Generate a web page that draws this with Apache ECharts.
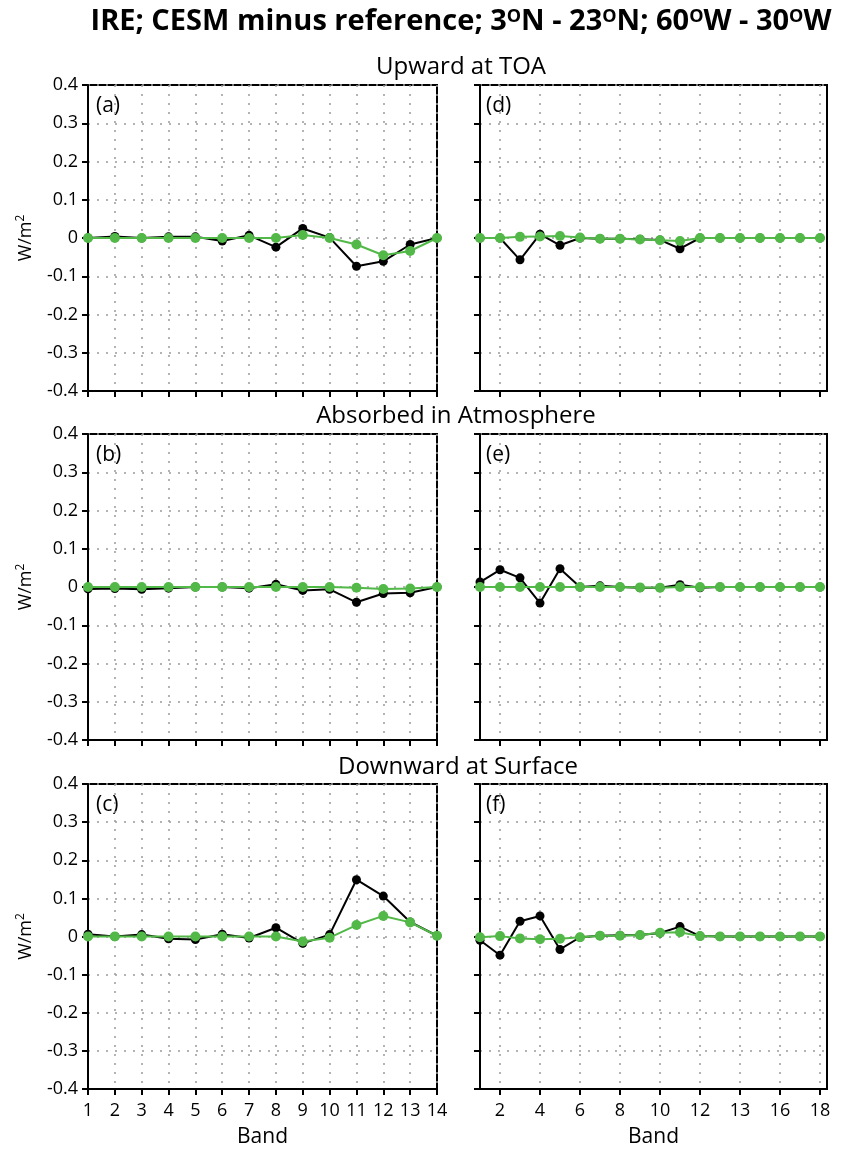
<!DOCTYPE html>
<html>
<head>
<meta charset="utf-8">
<script src="https://cdn.jsdelivr.net/npm/echarts@6/dist/echarts.min.js"></script>
<style>
html, body { margin: 0; padding: 0; background: #fff; }
#main { width: 852px; height: 1149px; }
</style>
</head>
<body>
<div id="main"></div>
<script>
// bands
const leftBands = [1, 2, 3, 4, 5, 6, 7, 8, 9, 10, 11, 12, 13, 14];
const rightBands = [1, 2, 3, 4, 5, 6, 7, 8, 9, 10, 11, 12, 13, 14, 15, 16, 17, 18];
const rightTickValues = [2, 4, 6, 8, 10, 12, 14, 16, 18];
const rightTickLabels = ['2', '4', '6', '8', '10', '12', '13', '16', '18'];

// (a) upward at TOA, left
const toaLeftBlack = [0, 0.004, 0, 0.003, 0.003, -0.008, 0.007, -0.024, 0.025, 0.001, -0.074, -0.061, -0.017, 0];
const toaLeftGreen = [0, 0, 0, 0, 0, 0, 0, 0, 0.008, 0, -0.017, -0.045, -0.034, 0];
// (d) upward at TOA, right
const toaRightBlack = [0, 0, -0.057, 0.010, -0.019, 0, -0.002, -0.002, -0.003, -0.005, -0.028, 0, 0, 0, 0, 0, 0, 0];
const toaRightGreen = [0, 0, 0.003, 0.004, 0.005, 0.001, -0.002, -0.002, -0.004, -0.006, -0.008, 0, 0, 0, 0, 0, 0, 0];
// (b) absorbed in atmosphere, left
const atmLeftBlack = [-0.005, -0.004, -0.006, -0.003, 0, 0, -0.003, 0.007, -0.009, -0.006, -0.040, -0.017, -0.015, 0];
const atmLeftGreen = [0, 0, 0, 0, 0, 0, 0, 0, 0, 0, -0.002, -0.005, -0.004, 0];
// (e) absorbed in atmosphere, right
const atmRightBlack = [0.013, 0.045, 0.024, -0.042, 0.048, 0, 0.003, 0, -0.002, -0.002, 0.006, -0.002, 0, 0, 0, 0, 0, 0];
const atmRightGreen = [0, 0, 0, 0, 0, 0, 0, 0, -0.001, -0.002, 0, 0, 0, 0, 0, 0, 0, 0];
// (c) downward at surface, left
const sfcLeftBlack = [0.006, 0, 0.005, -0.006, -0.008, 0.006, -0.004, 0.023, -0.018, 0.005, 0.149, 0.106, 0.038, 0.002];
const sfcLeftGreen = [0, 0, 0, 0, 0, 0, 0, 0, -0.013, -0.003, 0.030, 0.054, 0.037, 0.002];
// (f) downward at surface, right
const sfcRightBlack = [-0.010, -0.049, 0.040, 0.054, -0.034, -0.002, 0.002, 0.003, 0.004, 0.009, 0.026, 0.001, 0, 0, 0, 0, 0, 0];
const sfcRightGreen = [-0.002, 0.001, -0.005, -0.007, -0.006, -0.002, 0.002, 0.002, 0.004, 0.010, 0.011, 0.001, 0, 0, 0, 0, 0, 0];

const FONT = '"Open Sans", "Noto Sans", sans-serif';
const BLACK = '#000';
const GREEN = '#52b847';

var chart = echarts.init(document.getElementById('main'));

const tops = [85, 434, 784];
const panelH = 306;
const grids = [];
const xAxes = [];
const yAxes = [];
const series = [];

const dotted = { show: true, lineStyle: { color: '#9a9a9a', width: 1.5, type: [2, 7] } };

function addPanel(idx, isLeft, row, blackVals, greenVals) {
    grids.push({
        left: isLeft ? 88 : 480,
        top: tops[row],
        width: isLeft ? 349 : 347,
        height: panelH,
        show: true,
        borderColor: BLACK,
        borderWidth: 2
    });
    var bottomRow = row === 2;
    var xa = {
        gridIndex: idx,
        type: 'value',
        min: 1,
        axisLine: { onZero: false, lineStyle: { color: BLACK, width: 2 } },
        axisTick: { show: true, length: 6, lineStyle: { color: BLACK, width: 2 } },
        axisLabel: { show: bottomRow, color: BLACK, fontSize: 18, fontFamily: FONT, margin: 13 },
        splitLine: dotted,
        name: bottomRow ? 'Band' : '',
        nameLocation: 'middle',
        nameGap: 38,
        nameTextStyle: { color: BLACK, fontSize: 21, fontFamily: FONT }
    };
    if (isLeft) {
        xa.max = 14;
        xa.interval = 1;
    } else {
        // right-hand panels: ticks every second band, extra room after band 18
        xa.max = 18.35;
        xa.axisTick.customValues = rightTickValues;
        xa.axisLabel.customValues = rightTickValues;
        xa.axisLabel.formatter = function (v) {
            var k = rightTickValues.indexOf(v);
            return k >= 0 ? rightTickLabels[k] : '';
        };
    }
    xAxes.push(xa);
    yAxes.push({
        gridIndex: idx,
        type: 'value',
        min: -0.4,
        max: 0.4,
        interval: 0.1,
        axisLine: { lineStyle: { color: BLACK, width: 2 } },
        axisTick: { show: true, length: 6, lineStyle: { color: BLACK, width: 2 } },
        axisLabel: {
            show: isLeft, color: BLACK, fontSize: 18, fontFamily: FONT, margin: 10,
            formatter: function (v) { return Math.abs(v) < 1e-9 ? '0' : v.toFixed(1); }
        },
        splitLine: dotted,
        name: isLeft ? 'W/m{s|2}' : '',
        nameLocation: 'middle',
        nameRotate: 90,
        nameGap: 51,
        nameTextStyle: {
            color: BLACK, fontSize: 18, fontFamily: FONT,
            rich: { s: { fontSize: 12, fontFamily: FONT, color: BLACK, verticalAlign: 'top', lineHeight: 22 } }
        }
    });
    var bands = isLeft ? leftBands : rightBands;
    series.push({
        type: 'line',
        xAxisIndex: idx,
        yAxisIndex: idx,
        data: bands.map(function (b, i) { return [b, blackVals[i]]; }),
        symbol: 'circle',
        symbolSize: 9,
        itemStyle: { color: BLACK },
        lineStyle: { color: BLACK, width: 2 },
        animation: false,
        clip: false
    });
    series.push({
        type: 'line',
        xAxisIndex: idx,
        yAxisIndex: idx,
        data: bands.map(function (b, i) { return [b, greenVals[i]]; }),
        symbol: 'circle',
        symbolSize: 10,
        itemStyle: { color: GREEN },
        lineStyle: { color: GREEN, width: 2 },
        animation: false,
        clip: false
    });
}

addPanel(0, true, 0, toaLeftBlack, toaLeftGreen);
addPanel(1, true, 1, atmLeftBlack, atmLeftGreen);
addPanel(2, true, 2, sfcLeftBlack, sfcLeftGreen);
addPanel(3, false, 0, toaRightBlack, toaRightGreen);
addPanel(4, false, 1, atmRightBlack, atmRightGreen);
addPanel(5, false, 2, sfcRightBlack, sfcRightGreen);

function txt(x, y, text, size, weight, rich) {
    return {
        type: 'text',
        x: x,
        y: y,
        style: {
            text: text,
            fontSize: size,
            fontWeight: weight || 'normal',
            fontFamily: FONT,
            fill: BLACK,
            align: 'center',
            verticalAlign: 'middle',
            textAlign: 'center',
            textVerticalAlign: 'middle',
            rich: rich
        }
    };
}

const supRich = { o: { fontSize: 18, fontWeight: 'bold', fontFamily: FONT, fill: BLACK, color: BLACK, verticalAlign: 'top', lineHeight: 14 } };

const graphics = [
    txt(461, 22, 'IRE; CESM minus reference; 3{o|O}N - 23{o|O}N; 60{o|O}W - 30{o|O}W', 29, 'bold', supRich),
    txt(461, 67, 'Upward at TOA', 24),
    txt(456, 416, 'Absorbed in Atmosphere', 24),
    txt(458, 767, 'Downward at Surface', 24)
];
const panelLabels = ['(a)', '(b)', '(c)', '(d)', '(e)', '(f)'];
panelLabels.forEach(function (lab, i) {
    var isLeft = i < 3;
    var row = i % 3;
    graphics.push({
        type: 'text',
        x: isLeft ? 96 : 486,
        y: tops[row] + 21,
        style: {
            text: lab, fontSize: 21, fontFamily: FONT, fill: BLACK,
            align: 'left', verticalAlign: 'middle', textAlign: 'left', textVerticalAlign: 'middle'
        }
    });
});

chart.setOption({
    backgroundColor: '#fff',
    animation: false,
    grid: grids,
    xAxis: xAxes,
    yAxis: yAxes,
    series: series,
    graphic: graphics
});
</script>
</body>
</html>
